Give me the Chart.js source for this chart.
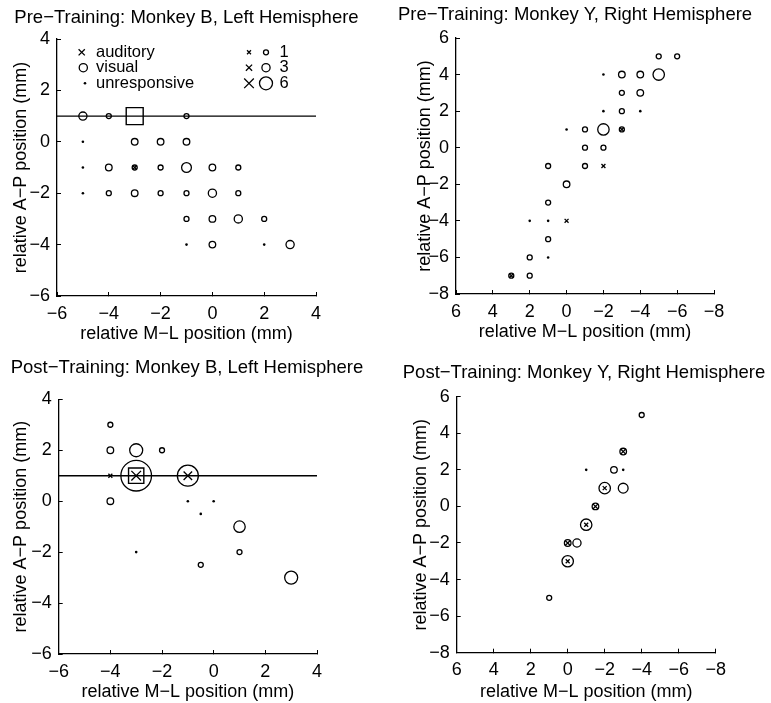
<!DOCTYPE html>
<html>
<head>
<meta charset="utf-8">
<title>Auditory / visual response maps</title>
<script src="https://cdn.jsdelivr.net/npm/chart.js@4.4.0/dist/chart.umd.min.js"></script>
<style>
  html, body { margin: 0; padding: 0; background: #fff; overflow: hidden; }
  body { width: 771px; height: 703px; position: relative; }
  canvas { position: absolute; }
</style>
</head>
<body>
<canvas id="preB" width="373" height="350" style="left:0px;top:0px"></canvas>
<canvas id="preY" width="380" height="350" style="left:385px;top:0px"></canvas>
<canvas id="postB" width="374" height="353" style="left:0px;top:350px"></canvas>
<canvas id="postY" width="368" height="353" style="left:400px;top:350px"></canvas>
<script>
const MINUS = '\u2212';
const TITLE_PX = 18.5;
const AXIS_PX = 18;
const FONT = '"Liberation Sans", Arial, Helvetica, sans-serif';

// each site: [M-L (mm), A-P (mm), number of responses]
const preB_visual = [
    [-5, 1, 3], [-4, 1, 1], [-1, 1, 1],
    [-3, 0, 2], [-2, 0, 2], [-1, 0, 2],
    [-4, -1, 2], [-3, -1, 1], [-2, -1, 1], [-1, -1, 4], [0, -1, 2], [1, -1, 1],
    [-4, -2, 1], [-3, -2, 2], [-2, -2, 1], [-1, -2, 1], [0, -2, 3], [1, -2, 1],
    [-1, -3, 1], [0, -3, 2], [1, -3, 3], [2, -3, 1],
    [0, -4, 2], [3, -4, 3]
];
const preB_auditory = [[-3, -1, 1]];
const preB_unresp = [[-5, 0], [-5, -1], [-5, -2], [-1, -4], [2, -4]];
const preB_site = [[-3, 1]];

const preY_visual = [
    [-5, 5, 1], [-6, 5, 1],
    [-3, 4, 2], [-4, 4, 2], [-5, 4, 5],
    [-3, 3, 1], [-4, 3, 2],
    [-3, 2, 1],
    [-1, 1, 1], [-2, 1, 5], [-3, 1, 1],
    [-1, 0, 1], [-2, 0, 1],
    [1, -1, 1], [-1, -1, 1],
    [0, -2, 2],
    [1, -3, 1],
    [1, -5, 1],
    [2, -6, 1],
    [3, -7, 1], [2, -7, 1]
];
const preY_auditory = [[-3, 1, 1], [-2, -1, 1], [0, -4, 1], [3, -7, 1]];
const preY_unresp = [[-2, 4], [-2, 2], [-4, 2], [0, 1], [2, -4], [1, -4], [1, -6]];

const postB_visual = [
    [-4, 3, 1], [-4, 2, 2], [-3, 2, 6], [-2, 2, 1],
    [-3, 1, 17], [-1, 1, 11],
    [-4, 0, 2],
    [1, -1, 5], [1, -2, 1], [-0.5, -2.5, 1], [3, -3, 6]
];
const postB_auditory = [[-3, 1, 6], [-1, 1, 5], [-4, 1, 1]];
const postB_unresp = [[-1, 0], [0, 0], [-0.5, -0.5], [-3, -2]];
const postB_site = [[-3, 1]];

const postY_visual = [
    [-4, 5, 1],
    [-3, 3, 2], [-2.5, 2, 2],
    [-2, 1, 5], [-3, 1, 4],
    [-1.5, 0, 2],
    [-1, -1, 5],
    [0, -2, 2], [-0.5, -2, 3],
    [0, -3, 5],
    [1, -5, 1]
];
const postY_auditory = [[-3, 3, 2], [-2, 1, 1], [-1.5, 0, 2], [-1, -1, 1], [0, -2, 2], [0, -3, 1]];
const postY_unresp = [[-1, 2], [-3, 2]];

const refLineY = 1;           // A-P level of the line drawn on the left-hemisphere maps
const leftX = [-6, 4], leftY = [-6, 4];
const rightX = [6, -8], rightY = [-8, 6];

const legendTypes = ['auditory', 'visual', 'unresponsive'];
const legendCounts = [1, 3, 6];

// response count -> marker size
const circleR = n => 1.7 + 0.8 * n;
const crossR = n => (1.4 + 0.57 * n) / 0.707;

const pts = arr => arr.map(p => ({ x: p[0], y: p[1], n: p.length > 2 ? p[2] : 1 }));
const minusify = v => String(v).replace('-', MINUS);

function buildDatasets(vis, aud, unr, site, siteR, lineX) {
    const ds = [
        { data: pts(aud), pointStyle: 'crossRot', pointRadius: c => crossR(c.raw.n),
          pointBorderColor: '#000', pointBorderWidth: 1.3 },
        { data: pts(vis), pointStyle: 'circle', pointRadius: c => circleR(c.raw.n),
          pointBackgroundColor: 'rgba(0,0,0,0)', pointBorderColor: '#000', pointBorderWidth: 1.3 },
        { data: pts(unr), pointStyle: 'circle', pointRadius: 1.3,
          pointBackgroundColor: '#000', pointBorderColor: '#000', pointBorderWidth: 0 }
    ];
    if (site) {
        ds.push({ data: pts(site), pointStyle: 'rect', pointRadius: siteR,
            pointBackgroundColor: 'rgba(0,0,0,0)', pointBorderColor: '#000', pointBorderWidth: 1.4 });
    }
    if (lineX) {
        ds.push({ data: [{ x: lineX[0], y: refLineY }, { x: lineX[1], y: refLineY }],
            showLine: true, pointRadius: 0, borderColor: '#000', borderWidth: 1.4 });
    }
    return ds;
}

function drawCross(ctx, x, y, r) {
    const h = r * 0.707;
    ctx.beginPath();
    ctx.moveTo(x - h, y - h); ctx.lineTo(x + h, y + h);
    ctx.moveTo(x + h, y - h); ctx.lineTo(x - h, y + h);
    ctx.stroke();
}
function drawCircle(ctx, x, y, r, fill) {
    ctx.beginPath();
    ctx.arc(x, y, r, 0, Math.PI * 2);
    fill ? ctx.fill() : ctx.stroke();
}

// key in the upper part of the first map
const keyPlugin = {
    id: 'key',
    afterDatasetsDraw(chart) {
        const { ctx, chartArea: a } = chart;
        const rows = [a.top + 13.3, a.top + 28.7, a.top + 44.3];
        ctx.save();
        ctx.strokeStyle = '#000';
        ctx.fillStyle = '#000';
        ctx.lineWidth = 1.3;
        ctx.font = '16.5px ' + FONT;
        ctx.textBaseline = 'middle';
        ctx.textAlign = 'left';
        drawCross(ctx, a.left + 24.7, rows[0], crossR(3));
        drawCircle(ctx, a.left + 26.3, rows[1], circleR(3));
        drawCircle(ctx, a.left + 28, rows[2], 1.3, true);
        legendTypes.forEach((t, i) => ctx.fillText(t, a.left + 39, rows[i]));
        legendCounts.forEach((n, i) => {
            drawCross(ctx, a.left + 192, rows[i], crossR(n));
            drawCircle(ctx, a.left + 209, rows[i], circleR(n));
            ctx.fillText(String(n), a.left + 222.5, rows[i]);
        });
        ctx.restore();
    }
};

function makePanel(id, title, datasets, g, xr, yr, plugins) {
    const canvas = document.getElementById(id);
    const W = canvas.width, H = canvas.height;
    const lhT = TITLE_PX * 1.2, lhA = AXIS_PX * 1.2;
    const axisBorder = { display: true, color: '#000', width: 1.3 };
    const inwardTicks = { display: true, drawOnChartArea: false, drawTicks: true, tickLength: -4, color: '#000', lineWidth: 1 };
    const tickFont = { family: FONT, size: AXIS_PX };
    return new Chart(canvas, {
        type: 'scatter',
        data: { datasets },
        options: {
            responsive: false,
            animation: false,
            events: [],
            devicePixelRatio: 1,
            layout: { padding: 0, autoPadding: false },
            plugins: {
                legend: { display: false },
                tooltip: { enabled: false },
                title: {
                    display: true,
                    text: title,
                    color: '#000',
                    font: { family: FONT, size: TITLE_PX, weight: 'normal' },
                    padding: { top: g.titleY - lhT / 2, bottom: g.top - g.titleY - lhT / 2 }
                }
            },
            scales: {
                x: {
                    type: 'linear',
                    min: Math.min(...xr), max: Math.max(...xr),
                    reverse: xr[0] > xr[1],
                    afterFit: s => { s.height = H - g.bottom; },
                    border: axisBorder,
                    grid: inwardTicks,
                    ticks: { stepSize: 2, padding: 11, autoSkip: false, maxRotation: 0, color: '#000', font: tickFont, callback: minusify },
                    title: {
                        display: true, color: '#000',
                        text: 'relative M' + MINUS + 'L position (mm)',
                        font: { family: FONT, size: AXIS_PX },
                        padding: { top: 0, bottom: H - g.xTitleY - lhA / 2 }
                    }
                },
                y: {
                    type: 'linear',
                    min: Math.min(...yr), max: Math.max(...yr),
                    afterFit: s => { s.width = g.left; },
                    border: axisBorder,
                    grid: inwardTicks,
                    ticks: { stepSize: 2, padding: 11, autoSkip: false, color: '#000', font: tickFont, callback: minusify },
                    title: {
                        display: true, color: '#000',
                        text: 'relative A' + MINUS + 'P position (mm)',
                        font: { family: FONT, size: AXIS_PX },
                        padding: { top: g.yTitleX - lhA / 2, bottom: 0 }
                    }
                },
                // empty box on the right so the title can span the whole canvas
                spacer: {
                    type: 'linear', position: 'right', display: true,
                    afterFit: s => { s.width = W - g.right; },
                    border: { display: false },
                    grid: { display: false, drawTicks: false },
                    ticks: { display: false }
                }
            }
        },
        plugins: plugins || []
    });
}

makePanel('preB', 'Pre' + MINUS + 'Training: Monkey B, Left Hemisphere',
    buildDatasets(preB_visual, preB_auditory, preB_unresp, preB_site, 12, leftX),
    { left: 57, top: 39, right: 316, bottom: 296, titleY: 18, yTitleX: 21, xTitleY: 333.7 },
    leftX, leftY, [keyPlugin]);

makePanel('preY', 'Pre' + MINUS + 'Training: Monkey Y, Right Hemisphere',
    buildDatasets(preY_visual, preY_auditory, preY_unresp, null, 0, null),
    { left: 71, top: 38, right: 329, bottom: 294, titleY: 15, yTitleX: 40.5, xTitleY: 331.7 },
    rightX, rightY);

makePanel('postB', 'Post' + MINUS + 'Training: Monkey B, Left Hemisphere',
    buildDatasets(postB_visual, postB_auditory, postB_unresp, postB_site, 10.8, leftX),
    { left: 58.7, top: 49.3, right: 317, bottom: 304, titleY: 18.3, yTitleX: 21, xTitleY: 341.7 },
    leftX, leftY);

makePanel('postY', 'Post' + MINUS + 'Training: Monkey Y, Right Hemisphere',
    buildDatasets(postY_visual, postY_auditory, postY_unresp, null, 0, null),
    { left: 56.7, top: 46.7, right: 315.7, bottom: 302.7, titleY: 23, yTitleX: 21, xTitleY: 341.7 },
    rightX, rightY);
</script>
</body>
</html>
